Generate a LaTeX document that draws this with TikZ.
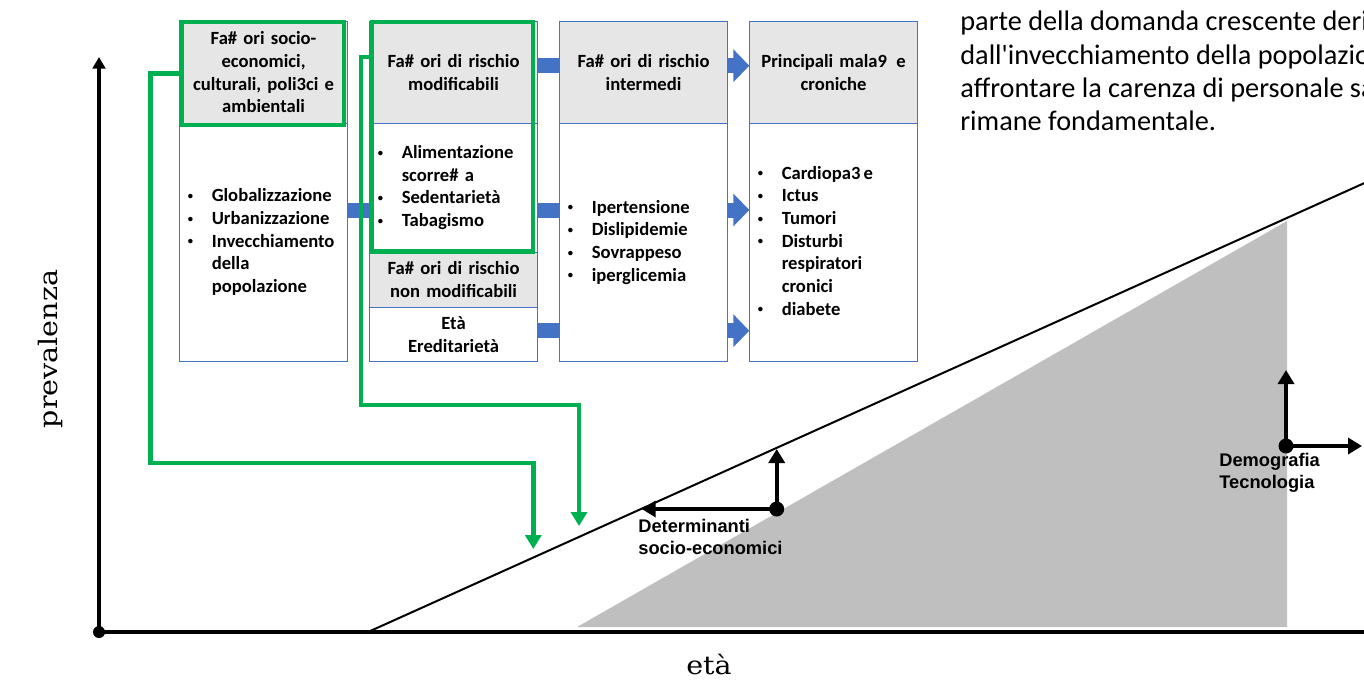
\documentclass[tikz,border=0pt]{standalone}
\usepackage{fontspec}
\setmainfont{Carlito}
\newfontfamily\lblfont{Liberation Sans}
\newfontfamily\axisfont[FakeStretch=1.12]{DejaVu Serif}
\usepackage{tikz}
\usetikzlibrary{arrows.meta}
\definecolor{boxblue}{HTML}{4472C4}
\definecolor{hdrgray}{HTML}{E7E6E6}
\definecolor{frgreen}{HTML}{00B050}
\definecolor{areagray}{HTML}{BFBFBF}
\newcommand{\boxtxt}{\fontsize{10.6}{12.9}\selectfont\bfseries}
\newcommand{\bul}{\raisebox{0.25ex}{\fontsize{6}{6}\selectfont\textbullet}}
\newcommand{\blist}[1]{\begin{tabular}{@{}p{0.48cm}@{}l@{}}#1\end{tabular}}
\tikzset{
         hdr/.style={draw=boxblue, line width=0.02cm, fill=hdrgray, anchor=north west,
                     minimum width=3.35cm, text width=3.2cm, align=center, inner sep=0pt, font=\boxtxt},
         bodybox/.style={draw=boxblue, line width=0.02cm, fill=white, anchor=north west,
                     minimum width=3.35cm, text width=3.03cm, align=left, inner xsep=0.16cm,
                     inner ysep=0pt, font=\boxtxt},
         greenframe/.style={draw=frgreen, line width=0.09cm, outer sep=0pt, inner sep=0pt},
         greenline/.style={draw=frgreen, line width=0.09cm, -{Triangle[length=0.28cm,width=0.32cm]}},
         bluebar/.style={draw=boxblue, line width=0.3cm},
         bluearrow/.style={bluebar, -{Triangle[length=0.32cm,width=0.64cm]}},
         blackarrow/.style={line width=0.08cm, -{Triangle[length=0.28cm,width=0.32cm]}},
         axisline/.style={line width=0.09cm},
         dot/.style={circle, fill=black, inner sep=0pt, minimum size=0.3cm},
         lbl/.style={anchor=north west, align=left, inner sep=0pt,
                     font=\lblfont\fontsize{10.4}{12.4}\selectfont\bfseries},
         axislabel/.style={inner sep=0pt, font=\axisfont\fontsize{14.5}{17}\selectfont}
        }
\begin{document}
\begin{tikzpicture}[x=0.02cm, y=-0.02cm]
      \useasboundingbox (0,0) rectangle (1364,684);
      \clip (0,0) rectangle (1364,684);
      \coordinate (rowTop) at (0,65.7); % block arrow rows
      \coordinate (rowMid) at (0,210);
      \coordinate (rowLow) at (0,330.7);
      % shaded area and trend line
      \fill[areagray] (577,627) -- (1287,221) -- (1287,627) -- cycle;
      \draw[line width=0.04cm] (368,632) -- (1380,176);
      % axes
      \node[dot, minimum size=0.24cm] (orig) at (99,632) {}; % origin
      \coordinate (yTop) at (99,57);
      \coordinate (xEnd) at (1380,632);
      \draw[axisline,-{Triangle[length=0.23cm,width=0.25cm]}] (orig.center) -- (yTop); % y axis
      \draw[axisline] (orig.center) -- (xEnd); % x axis
      \node[axislabel, rotate=90] (prevLbl) at (50,349) {prevalenza}; % y label
      \node[axislabel] (etaLbl) at (709,664) {età}; % x label
      % boxes
      \node[hdr, minimum height=2.05cm] (socH) at (179.3,20.7) {Fa\# ori socio-\\economici,\\culturali, poli3ci e\\ambientali};
      \node[bodybox, minimum height=4.76cm] (socB) at (179.3,123) {\blist{\bul & Globalizzazione\\ \bul & Urbanizzazione\\ \bul & Invecchiamento\\ & della\\ & popolazione}};
      \node[hdr, minimum height=2.05cm] (riskH) at (369.3,20.7) {Fa\# ori di rischio\\modificabili};
      \node[bodybox, minimum height=2.575cm] (riskB) at (369.3,123) {\blist{\bul & Alimentazione\\ & scorre\# a\\ \bul & Sedentarietà\\ \bul & Tabagismo}};
      \node[hdr, minimum height=1.1cm] (nonH) at (369.3,251.7) {Fa\# ori di rischio\\non modificabili};
      \node[bodybox, minimum height=1.085cm, align=center] (etaB) at (369.3,306.7) {Età\\Ereditarietà};
      \node[hdr, minimum height=2.05cm] (intH) at (559.3,20.7) {Fa\# ori di rischio\\intermedi};
      \node[bodybox, minimum height=4.76cm] (intB) at (559.3,123) {\blist{\bul & Ipertensione\\ \bul & Dislipidemie\\ \bul & Sovrappeso\\ \bul & iperglicemia}};
      \node[hdr, minimum height=2.05cm] (disH) at (749.3,20.7) {Principali mala9\, e\\croniche};
      \node[bodybox, minimum height=4.76cm] (disB) at (749.3,123) {\blist{\bul & Cardiopa3\,e\\ \bul & Ictus\\ \bul & Tumori\\ \bul & Disturbi\\ & respiratori\\ & cronici\\ \bul & diabete}};
      % block arrows
      \draw[bluebar] (socB.east |- rowMid) -- (riskB.west |- rowMid);
      \draw[bluebar] (riskH.east |- rowTop) -- (intH.west |- rowTop);
      \draw[bluebar] (riskB.east |- rowMid) -- (intB.west |- rowMid);
      \draw[bluebar] (etaB.east |- rowLow) -- (intB.west |- rowLow);
      \draw[bluearrow] (intH.east |- rowTop) -- (disH.west |- rowTop);
      \draw[bluearrow] (intB.east |- rowMid) -- (disB.west |- rowMid);
      \draw[bluearrow] (intB.east |- rowLow) -- (disB.west |- rowLow);
      % green frames and their arrows
      \node[greenframe, minimum width=3.246cm, minimum height=2.06cm] (socG) at (262.85,73.5) {};
      \node[greenframe, minimum width=3.22cm, minimum height=4.594cm] (riskG) at (452.5,136.85) {};
      \coordinate (hitA) at (533.3,549);
      \coordinate (hitB) at (579,526);
      \draw[greenline] (socG.west) -| (150.7,463) -| (hitA); % socio-economic
      \draw[greenline] ([yshift=-0.7cm]riskG.north west) -| (361,405) -| (hitB); % modifiable
      % determinants
      \node[dot] (detDot) at (776.7,509) {};
      \coordinate (detUp) at (776.7,449);
      \coordinate (detLeft) at (641.7,509);
      \draw[blackarrow] (detDot.center) -- (detUp);
      \draw[blackarrow] (detDot.center) -- (detLeft);
      \node[lbl] (detLbl) at (638,519) {Determinanti\\socio-economici}; % determinants label
      \node[dot] (demDot) at (1286,446) {};
      \coordinate (demUp) at (1286,370);
      \coordinate (demRight) at (1362,446);
      \draw[blackarrow] (demDot.center) -- (demUp);
      \draw[blackarrow] (demDot.center) -- (demRight);
      \node[lbl] (demLbl) at (1219,453) {Demografia\\Tecnologia}; % demography label
      % note
      \node[anchor=north west, align=left, inner sep=0pt, font=\fontsize{16.1}{18.8}\selectfont] (note) at (960,11) {parte della domanda crescente derivante\\dall\textquotesingle invecchiamento della popolazione,\\affrontare la carenza di personale sanitario\\rimane fondamentale.};
\end{tikzpicture}
\end{document}
